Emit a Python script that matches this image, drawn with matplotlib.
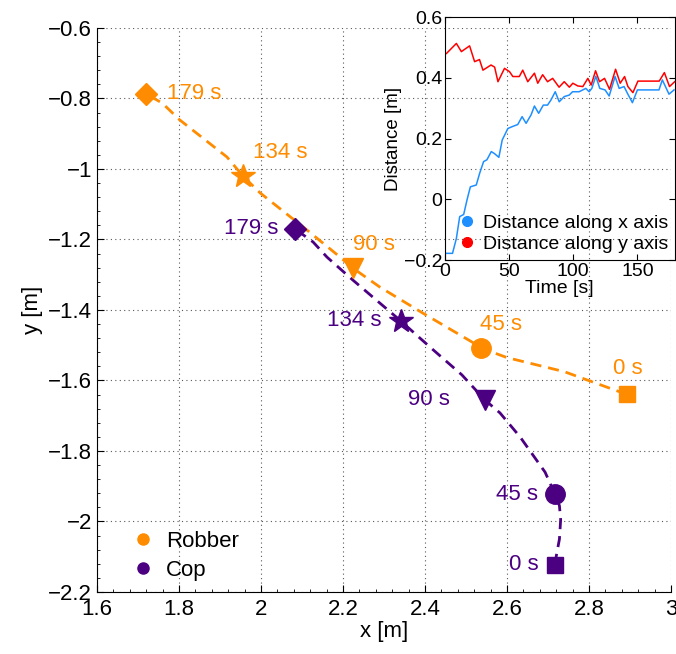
import numpy as np
import matplotlib
matplotlib.use("Agg")
import matplotlib.pyplot as plt
from matplotlib.lines import Line2D
from matplotlib.ticker import AutoMinorLocator

plt.rcParams['font.family'] = ['Liberation Sans', 'DejaVu Sans']

orange = '#FF8C00'
purple = '#4B0082'

# snapshots: times, markers, positions
times = ['0 s', '45 s', '90 s', '134 s', '179 s']
marks = ['s', 'o', 'v', '*', 'D']
msizes = [12, 14, 14, 18, 11]

robber_x = [2.893, 2.537, 2.224, 1.956, 1.720]
robber_y = [-1.638, -1.508, -1.281, -1.020, -0.787]
cop_x = [2.717, 2.717, 2.546, 2.341, 2.083]
cop_y = [-2.123, -1.922, -1.655, -1.431, -1.170]

robber_path_x = [2.893, 2.87, 2.74, 2.60, 2.537, 2.515, 2.395, 2.29, 2.224,
                 2.193, 2.112, 1.998, 1.956, 1.917, 1.802, 1.759, 1.720]
robber_path_y = [-1.638, -1.63, -1.575, -1.535, -1.508, -1.491, -1.409, -1.335, -1.281,
                 -1.25, -1.173, -1.068, -1.020, -0.966, -0.861, -0.813, -0.787]
cop_path_x = [2.717, 2.72, 2.728, 2.731, 2.728, 2.717, 2.693, 2.632, 2.583, 2.546,
              2.49, 2.42, 2.388, 2.341, 2.224, 2.161, 2.127, 2.083]
cop_path_y = [-2.123, -2.10, -2.05, -1.995, -1.955, -1.922, -1.86, -1.76, -1.692, -1.655,
              -1.584, -1.513, -1.48, -1.431, -1.315, -1.25, -1.207, -1.170]

# label offsets in points (dx, dy, ha)
robber_lbl = [(-10, 18, 'left'), (-1, 17, 'left'), (0, 17, 'left'), (7, 17, 'left'), (15, 0, 'left')]
cop_lbl = [(-12, 0, 'right'), (-12, 0, 'right'), (-25, 0, 'right'), (-14, 0, 'right'), (-12, 0, 'right')]

# inset: distance between robber and cop
t_y = [1.3, 9, 12.9, 19.3, 23.2, 27, 29.7, 36, 38.8, 41.4, 46.5, 50.4, 53, 58, 60.7, 64.6,
       69.8, 72.4, 76.2, 80, 84, 89, 93, 97, 99.7, 103.6, 107.5, 111.4, 114, 117.4, 120.5,
       124.4, 128.3, 133, 136.6, 140, 142.6, 146.5, 150.4, 156.8, 167, 171, 175, 179]
d_y = [0.48, 0.513, 0.486, 0.505, 0.453, 0.46, 0.425, 0.442, 0.435, 0.387, 0.431, 0.42,
       0.404, 0.404, 0.425, 0.387, 0.415, 0.382, 0.41, 0.387, 0.398, 0.369, 0.387, 0.369,
       0.382, 0.373, 0.371, 0.398, 0.376, 0.423, 0.387, 0.398, 0.362, 0.428, 0.382, 0.404,
       0.371, 0.351, 0.389, 0.389, 0.389, 0.417, 0.371, 0.387]
t_x = [1.3, 6, 9, 11.6, 14.7, 17.3, 19.9, 24.5, 27.1, 30.2, 32.8, 36.2, 38.8, 42.1, 44.7,
       49.1, 53, 56.8, 60.2, 63.3, 67.2, 69.8, 73.1, 76.7, 80, 82.7, 86, 89.1, 93, 96.9,
       99.5, 104.6, 109.8, 112.4, 114.5, 117.6, 120.7, 124.8, 128, 132.6, 135.8, 139.6,
       142.2, 146.1, 150, 156.5, 166.8, 169.4, 174.6, 178.5]
d_x = [-0.178, -0.178, -0.129, -0.057, -0.05, -0.002, 0.041, 0.047, 0.085, 0.124, 0.13,
       0.157, 0.15, 0.138, 0.195, 0.233, 0.24, 0.246, 0.272, 0.25, 0.278, 0.307, 0.283,
       0.31, 0.31, 0.327, 0.354, 0.321, 0.338, 0.343, 0.354, 0.354, 0.365, 0.354, 0.365,
       0.405, 0.365, 0.36, 0.34, 0.404, 0.365, 0.371, 0.349, 0.318, 0.36, 0.36, 0.36,
       0.393, 0.346, 0.36]

fig = plt.figure(figsize=(6.76, 6.54), dpi=100)
ax = fig.add_axes([0.1435, 0.0948, 0.849, 0.8624])

dash = (0, (4, 2.5))
ax.plot(robber_path_x, robber_path_y, color=orange, lw=2, ls=dash, zorder=2)
ax.plot(cop_path_x, cop_path_y, color=purple, lw=2, ls=dash, zorder=2)

for i in range(5):
    ax.plot(robber_x[i], robber_y[i], marks[i], color=orange, ms=msizes[i], mec=orange, zorder=3)
    ax.plot(cop_x[i], cop_y[i], marks[i], color=purple, ms=msizes[i], mec=purple, zorder=3)
    dx, dy, ha = robber_lbl[i]
    ax.annotate(times[i], (robber_x[i], robber_y[i]), xytext=(dx, dy), textcoords='offset points',
                ha=ha, va='center', color=orange, fontsize=16)
    dx, dy, ha = cop_lbl[i]
    ax.annotate(times[i], (cop_x[i], cop_y[i]), xytext=(dx, dy), textcoords='offset points',
                ha=ha, va='center', color=purple, fontsize=16)

ax.set_xlim(1.6, 3)
ax.set_ylim(-2.2, -0.6)
ax.set_xticks(np.arange(1.6, 3.01, 0.2))
ax.set_xticklabels(['1.6', '1.8', '2', '2.2', '2.4', '2.6', '2.8', '3'])
ax.set_yticks(np.arange(-2.2, -0.59, 0.2))
ax.set_yticklabels(['\u22122.2', '\u22122', '\u22121.8', '\u22121.6', '\u22121.4', '\u22121.2',
                    '\u22121', '\u22120.8', '\u22120.6'])
ax.xaxis.set_minor_locator(AutoMinorLocator(5))
ax.yaxis.set_minor_locator(AutoMinorLocator(5))
ax.tick_params(which='both', direction='in', labelsize=16, top=False, right=False)
ax.tick_params(which='major', length=5)
ax.tick_params(which='minor', length=2.5)
ax.tick_params(axis='x', pad=5)
ax.grid(True, which='major', color='0.35', ls=(0, (1, 3)), lw=0.8)
ax.spines['top'].set_visible(False)
ax.spines['right'].set_visible(False)
ax.set_xlabel('x [m]', fontsize=16, labelpad=1)
ax.set_ylabel('y [m]', fontsize=16, labelpad=4)

leg_handles = [Line2D([], [], marker='o', ls='none', color=orange, ms=8),
               Line2D([], [], marker='o', ls='none', color=purple, ms=8)]
ax.legend(leg_handles, ['Robber', 'Cop'], loc='lower left', bbox_to_anchor=(0.03, -0.016),
          frameon=False, fontsize=16, handlelength=0.8, handletextpad=0.64, labelspacing=0.35)

# inset
ins = fig.add_axes([0.658, 0.6024, 0.340, 0.3716])
ins.patch.set_alpha(0)
ins.plot(t_x, d_x, color='#1E8FFF', lw=1.1)
ins.plot(t_y, d_y, color='red', lw=1.1)
ins.set_xlim(0, 179)
ins.set_ylim(-0.2, 0.6)
ins.set_xticks([0, 50, 100, 150])
ins.set_yticks([-0.2, 0, 0.2, 0.4, 0.6])
ins.set_yticklabels(['\u22120.2', '0', '0.2', '0.4', '0.6'])
ins.tick_params(direction='in', labelsize=14, top=True, right=True, length=4, pad=2)
ins.set_xlabel('Time [s]', fontsize=14, labelpad=0)
ins.set_ylabel('Distance [m]', fontsize=13.5, labelpad=1)
ins_handles = [Line2D([], [], marker='o', ls='none', color='#1E8FFF', ms=7),
               Line2D([], [], marker='o', ls='none', color='red', ms=7)]
ins.legend(ins_handles, ['Distance along x axis', 'Distance along y axis'], loc='lower right',
           frameon=False, fontsize=14, handletextpad=0.3, labelspacing=0.2,
           borderaxespad=0.05, borderpad=0.3, handlelength=1.0)

fig.savefig('out.png', dpi=100)
